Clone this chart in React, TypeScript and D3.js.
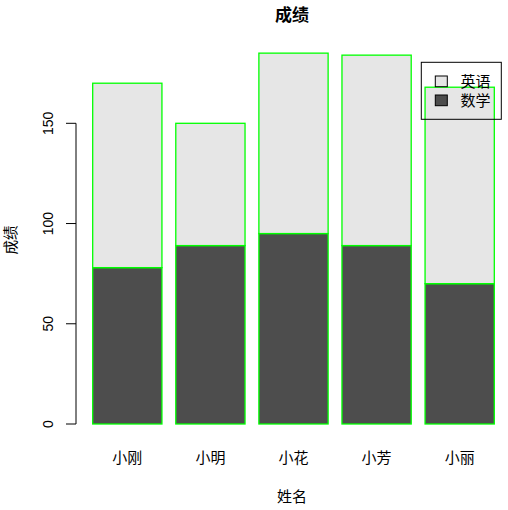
import React from "react";
import * as d3 from "d3";

const names = ["小刚", "小明", "小花", "小芳", "小丽"];
const math = [78, 89, 95, 89, 70];
const english = [92, 61, 90, 95, 98];
const seriesNames = ["英语", "数学"];
const yTicks = [0, 50, 100, 150];

const W = 508;
const H = 510;
const FONT = "'Liberation Sans', Arial, 'Noto Sans CJK SC', sans-serif";
const CJK = "'Noto Sans CJK SC', 'Liberation Sans', sans-serif";
const DARK = "#4D4D4D";
const LIGHT = "#E6E6E6";
const GREEN = "#00FF00";

export default function App() {
  const y = d3.scaleLinear().domain([0, 150]).range([424, 123.3]);
  const x = d3.scaleLinear().domain([0.2, 6.0]).range([92.7, 494.3]);
  const bw = x(1) - x(0);
  const left = (i: number) => x(0.2 + 1.2 * i);
  const center = (i: number) => left(i) + bw / 2;

  return (
    <div style={{ position: "absolute", left: 0, top: 0 }}>
      <svg width={W} height={H} style={{ display: "block", background: "#fff" }}>
        <text x={292} y={21} textAnchor="middle" fontFamily={CJK} fontWeight="bold" fontSize={17}>
          成绩
        </text>
        {names.map((n, i) => (
          <g key={n}>
            <rect
              x={left(i)}
              y={y(math[i])}
              width={bw}
              height={y(0) - y(math[i])}
              fill={DARK}
              stroke={GREEN}
              strokeWidth={1.3}
            />
            <rect
              x={left(i)}
              y={y(math[i] + english[i])}
              width={bw}
              height={y(math[i]) - y(math[i] + english[i])}
              fill={LIGHT}
              stroke={GREEN}
              strokeWidth={1.3}
            />
            <text x={center(i)} y={463} textAnchor="middle" fontFamily={CJK} fontSize={15}>
              {n}
            </text>
          </g>
        ))}
        <line x1={76} x2={76} y1={y(0)} y2={y(150)} stroke="#000" />
        {yTicks.map((t) => (
          <g key={t}>
            <line x1={66} x2={76} y1={y(t)} y2={y(t)} stroke="#000" />
            <text
              transform={`translate(53,${y(t)}) rotate(-90)`}
              textAnchor="middle"
              fontFamily={FONT}
              fontSize={14}
            >
              {t}
            </text>
          </g>
        ))}
        <text
          transform={`translate(16,240) rotate(-90)`}
          textAnchor="middle"
          fontFamily={CJK}
          fontSize={14.5}
        >
          成绩
        </text>
        <text x={292} y={502} textAnchor="middle" fontFamily={CJK} fontSize={15}>
          姓名
        </text>
        <g>
          <rect x={421.3} y={62.3} width={80} height={57} fill="none" stroke="#000" />
          {seriesNames.map((s, i) => (
            <g key={s}>
              <rect
                x={435.3}
                y={76 + i * 19}
                width={12}
                height={10.7}
                fill={i === 0 ? LIGHT : DARK}
                stroke="#000"
              />
              <text x={460.5} y={81.3 + i * 19} dy="0.36em" fontFamily={CJK} fontSize={15}>
                {s}
              </text>
            </g>
          ))}
        </g>
      </svg>
    </div>
  );
}
